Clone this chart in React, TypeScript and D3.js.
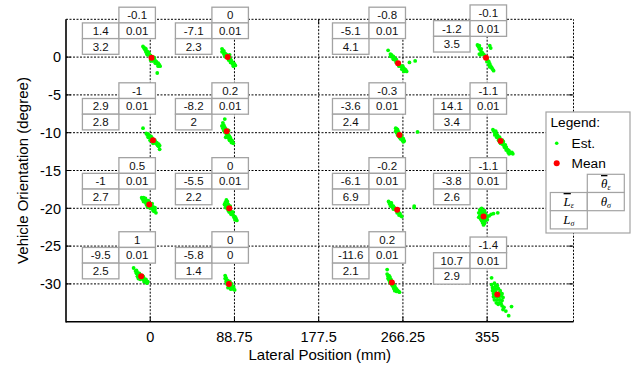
import React from 'react';
import * as d3 from 'd3';

// target grid (lateral mm, orientation deg)
const targetL = [0, 88.75, 266.25, 355];
const targetTheta = [0, -10, -20, -30];

// per cell, row-major (theta rows, L columns)
const meanL = [1.4, -7.1, -5.1, -1.2, 2.9, -8.2, -3.6, 14.1, -1, -5.5, -6.1, -3.8, -9.5, -5.8, -11.6, 10.7];
const meanTheta = [-0.1, 0, -0.8, -0.1, -1, 0.2, -0.3, -1.1, 0.5, 0, -0.2, -1.1, 1, 0, 0.2, -1.4];
const stdL = [3.2, 2.3, 4.1, 3.5, 2.8, 2, 2.4, 3.4, 2.7, 2.2, 6.9, 2.6, 2.5, 1.4, 2.1, 2.9];
const stdTheta = [0.01, 0.01, 0.01, 0.01, 0.01, 0.01, 0.01, 0.01, 0.01, 0.01, 0.01, 0.01, 0.01, 0, 0.01, 0.01];

// where each little table sits (data units, top-left of the upper cell)
const tableL = [-33, 65, 230.5, 337];
const tableTheta = [6.6, 6.6, 6.6, 6.9, -3.4, -3.4, -3.4, -3.4, -13.3, -13.3, -13.3, -13.3, -23.1, -23.1, -23.1, -23.8];

const xTicks = [0, 88.75, 177.5, 266.25, 355];
const yTicks = [0, -5, -10, -15, -20, -25, -30];

// estimates, offsets from the cell mean [dL mm, dTheta deg]
const est: number[][][] = [
  [[-9, 1.5], [-8, 1.3], [-7, 1.3], [-7, 1.1], [-6, 1.2], [-5, 0.9], [-6, 0.8], [-4, 0.8], [-3, 0.7], [-4, 0.4], [-2, 0.4], [-1, 0.3], [0, 0.1], [2, 0.1], [1, -0.1], [3, -0.3], [2, -0.4], [4, -0.4], [5, -0.5], [4, -0.7], [6, -0.8], [7, -0.7], [8, -0.9], [7, -1.1], [9, -1.1], [6, -2], [-1, -0.3], [3, 0], [-5, 0.5], [0, -0.4]],
  [[-6, 1.1], [-5, 0.9], [-6, 0.7], [-4, 0.8], [-3, 0.5], [-4, 0.4], [-2, 0.4], [-1, 0.3], [-2, 0], [0, -0.1], [1, 0.1], [2, -0.1], [1, -0.4], [3, -0.3], [4, -0.5], [3, -0.7], [5, -0.7], [6, -0.8], [5, -0.9], [7, -0.9], [8, -1.1], [6, -1.2], [2, 0.3], [-3, 0.1]],
  [[-10.5, 1.7], [-8, 1.2], [-7, 1.1], [-8, 0.9], [-6, 0.8], [-5, 0.9], [-5, 0.5], [-4, 0.7], [-3, 0.4], [-2, 0.5], [-1, 0.1], [-2, 0.1], [0, -0.1], [1, 0], [2, -0.3], [1, -0.4], [3, -0.4], [4, -0.5], [5, -0.4], [4, -0.8], [6, -0.7], [7, -0.8], [6, -1.1], [8, -0.9], [9, -1.1], [12, 0.1], [18, 0.3]],
  [[-9, 1.7], [-8, 1.5], [-7, 1.6], [-7, 1.2], [-6, 1.1], [-5, 1.2], [-5, 0.8], [-4, 0.7], [-3, 0.5], [-2, 0.4], [-1, 0.1], [0, 0], [1, -0.1], [2, -0.4], [1, -0.5], [3, -0.5], [4, -0.8], [3, -0.9], [5, -1.1], [4, -1.2], [6, -1.3], [7, -1.5], [8, -1.7], [4, 1.6], [5, 1.3], [-7, 0.5], [-6, 0.4]],
  [[-10.5, 1.6], [-7, 0.9], [-6, 0.7], [-5, 0.8], [-5, 0.4], [-4, 0.5], [-3, 0.4], [-2, 0.5], [-2, 0.1], [-1, 0.3], [0, 0], [1, -0.1], [2, 0], [2, -0.3], [3, -0.4], [4, -0.3], [4, -0.5], [5, -0.7], [6, -0.5], [6, -0.8], [7, -0.7], [7, -1.2], [0, -0.4], [-3, 0]],
  [[-2, 1.6], [-4, 1.1], [-5, 0.7], [-3, 0.8], [-4, 0.4], [-2, 0.5], [-3, 0.1], [-1, 0.3], [-2, -0.1], [0, 0], [1, -0.3], [0, -0.4], [2, -0.5], [1, -0.7], [3, -0.7], [2, -0.9], [4, -0.9], [3, -1.2], [5, -1.2], [6, -1.3], [5, -1.5], [7, -1.6], [-1, -0.8], [2, 0.1]],
  [[-4, 0.9], [-3, 0.8], [-4, 0.5], [-2, 0.7], [-3, 0.3], [-1, 0.4], [-2, 0], [0, 0.1], [1, -0.1], [0, -0.3], [2, -0.3], [1, -0.5], [3, -0.4], [3, -0.7], [4, -0.5], [5, -0.8], [4, -0.9], [19, 0.4], [-1, -0.1], [2, 0]],
  [[-8, 1.5], [-7, 1.3], [-6, 1.1], [-5, 1.3], [-4, 0.9], [-6, 0.8], [-3, 0.7], [-4, 0.5], [-2, 0.4], [-1, 0.5], [-2, 0.1], [0, 0.1], [1, -0.1], [0, -0.3], [2, -0.4], [3, -0.1], [3, -0.5], [4, -0.8], [5, -0.5], [5, -0.9], [6, -0.8], [7, -1.1], [6, -1.2], [8, -1.2], [8, -1.5], [9, -1.3], [10.5, -1.6], [12, -1.5], [13, -1.7], [9, -1.7], [2, 0.1]],
  [[-8, 0.9], [-7, 0.7], [-6, 0.9], [-5, 0.7], [-4, 0.8], [-6, 0.4], [-3, 0.5], [-4, 0.3], [-2, 0.3], [-1, 0.5], [-3, 0], [-1, 0], [1, 0.1], [0, -0.3], [2, -0.1], [3, 0.1], [2, -0.4], [4, -0.3], [3, -0.5], [5, -0.5], [4, -0.8], [6, -0.7], [5, -0.9], [7, -1.1], [6, -0.4], [-2, -0.3], [1, -0.5]],
  [[-3, 1.1], [-4, 0.8], [-2, 0.9], [-5, 0.5], [-3, 0.4], [-1, 0.5], [-4, 0.1], [-2, 0], [0, 0.1], [-1, -0.3], [1, -0.1], [2, -0.4], [0, -0.5], [3, -0.7], [2, -0.8], [4, -0.5], [4, -0.9], [5, -1.2], [6, -1.1], [6, -1.5], [7, -1.3], [8, -1.6], [1, 0.3]],
  [[-9, 1.1], [-8, 0.8], [-7, 0.9], [-6, 0.7], [-7, 0.5], [-5, 0.4], [-4, 0.5], [-3, 0.3], [-4, 0.1], [-2, 0.1], [-1, 0], [0, -0.1], [1, -0.3], [0, -0.4], [2, -0.4], [3, -0.5], [2, -0.7], [4, -0.8], [5, -0.9], [18, 0.5], [18, 0.3], [-6, 0.9]],
  [[-4, 0.9], [-2, 1.1], [-5, 0.5], [-3, 0.7], [-1, 0.7], [1, 0.8], [-4, 0.1], [-2, 0.3], [0, 0.4], [2, 0.4], [3, 0.1], [-3, -0.3], [-1, -0.1], [1, -0.1], [3, -0.3], [4, 0], [-2, -0.5], [0, -0.5], [2, -0.5], [4, -0.4], [-1, -0.8], [1, -0.9], [0, -1.1], [8, 0.3], [10.5, 0.4], [15, 0.5], [6, 0.1], [-5, -0.1]],
  [[-8, 1.1], [-6, 0.7], [-5, 0.8], [-5, 0.4], [-4, 0.5], [-3, 0.3], [-4, 0], [-2, 0.4], [-2, 0], [-1, 0.1], [0, -0.1], [1, 0.1], [1, -0.3], [2, 0], [2, -0.4], [3, -0.3], [4, -0.5], [3, -0.7], [5, -0.4], [5, -0.7], [6, -0.8], [7, -0.7], [6, -0.9], [-1, -0.4], [-3, -0.3]],
  [[-4, 1.1], [-3, 0.8], [-4, 0.7], [-2, 0.5], [-3, 0.3], [-1, 0.4], [-2, 0], [0, 0.1], [1, -0.1], [0, -0.3], [2, -0.3], [3, 0], [3, -0.4], [4, -0.5], [5, -0.4], [2, -0.7], [5, -0.7], [6, -0.8], [-1, -0.5], [1, 0.3]],
  [[-5, 1.7], [-5, 1.1], [-4, 0.8], [-3, 0.9], [-4, 0.5], [-2, 0.7], [-3, 0.3], [-1, 0.4], [-2, 0], [0, 0.1], [1, -0.1], [0, -0.3], [2, -0.4], [1, -0.5], [3, -0.5], [2, -0.8], [4, -0.8], [3, -1.1], [5, -0.9], [6, -1.1], [5, -1.2], [7, -1.2], [8, -1.3], [-1, -0.1]],
  [[-6, 2.2], [-6, 1.3], [-3, 1.5], [-5, 0.9], [-2, 1.1], [0, 1.2], [-5, 0.5], [-3, 0.7], [-1, 0.7], [1, 0.8], [3, 0.5], [-4, 0.1], [-2, 0.3], [1, 0.1], [3, 0.3], [5, 0.1], [-4, -0.3], [-1, -0.3], [2, -0.3], [4, -0.1], [6, -0.4], [-3, -0.7], [0, -0.7], [3, -0.7], [5, -0.8], [-1, -1.1], [2, -1.1], [4, -1.2], [1, -1.3], [5, -1.5], [7, -1.7], [9, -2.2], [12, -2.8], [15, -1.6], [6, -2]],
];

const font = '"Liberation Sans", Arial, Helvetica, sans-serif';
const serif = '"Liberation Serif", "Times New Roman", serif';

const cellW = 36.5;
const cellH = 15.7;

export default function App() {
  const x = d3.scaleLinear().domain([-88.75, 446]).range([66, 573.5]);
  const y = d3.scaleLinear().domain([-35, 5]).range([321.7, 19.3]);
  const [x0, x1] = x.range();
  const [y0, y1] = y.range();

  const cells = d3.cross(targetTheta, targetL).map(([t, l], i) => ({
    i,
    cx: l + meanL[i],
    cy: t + meanTheta[i],
    pts: est[i].map(([dl, dt]) => [l + meanL[i] + dl, t + meanTheta[i] + dt]),
    ax: x(tableL[i % 4]),
    ay: y(tableTheta[i]),
  }));

  const cellBox = (bx: number, by: number, w: number, h: number, label: any, key: string) => (
    <g key={key}>
      <rect x={bx} y={by} width={w} height={h} fill="#fff" stroke="#a3a3a3" strokeWidth={1.3} />
      <text x={bx + w / 2} y={by + h / 2} dy="0.36em" textAnchor="middle" fontSize={11.5} fill="#111">{label}</text>
    </g>
  );

  return (
    <svg width={636} height={366} style={{ position: 'absolute', left: 0, top: 0 }} fontFamily={font}>
      <rect width={636} height={366} fill="#fff" />

      {/* grid */}
      <g stroke="#000" strokeWidth={1} strokeDasharray="2,1.5">
        {xTicks.map(t => <line key={'gx' + t} x1={x(t)} x2={x(t)} y1={y0} y2={y1} />)}
        {yTicks.map(t => <line key={'gy' + t} x1={x0} x2={x1} y1={y(t)} y2={y(t)} />)}
        <line x1={x0} x2={x1} y1={y1} y2={y1} />
        <line x1={x1} x2={x1} y1={y0} y2={y1} />
      </g>

      {/* axes */}
      <g stroke="#000" strokeWidth={1.6}>
        <line x1={x0} x2={x0} y1={y0 + 0.8} y2={y1} />
        <line x1={x0} x2={x1} y1={y0} y2={y0} />
      </g>
      <g stroke="#000" strokeWidth={1}>
        {xTicks.map(t => <line key={'tb' + t} x1={x(t)} x2={x(t)} y1={y0} y2={y0 - 5} />)}
        {xTicks.map(t => <line key={'tt' + t} x1={x(t)} x2={x(t)} y1={y1} y2={y1 + 5} />)}
        {yTicks.map(t => <line key={'tl' + t} x1={x0} x2={x0 + 5} y1={y(t)} y2={y(t)} />)}
        {yTicks.map(t => <line key={'tr' + t} x1={x1} x2={x1 - 5} y1={y(t)} y2={y(t)} />)}
      </g>

      {/* tick labels */}
      <g fontSize={14.5} fill="#000">
        {xTicks.map(t => (
          <text key={'lx' + t} x={x(t)} y={y0 + 20} textAnchor="middle">{String(t)}</text>
        ))}
        {yTicks.map(t => (
          <text key={'ly' + t} x={x0 - 5} y={y(t)} dy="0.36em" textAnchor="end">{String(t)}</text>
        ))}
      </g>
      <text x={(x0 + x1) / 2} y={360} textAnchor="middle" fontSize={15}>Lateral Position (mm)</text>
      <text transform={`translate(23,${(y0 + y1) / 2}) rotate(-90)`} textAnchor="middle" dy="0.36em" fontSize={15}>Vehicle Orientation (degree)</text>

      {/* estimates and means */}
      {cells.map(c => (
        <g key={'c' + c.i}>
          {c.pts.map(([l, t], j) => <circle key={j} cx={x(l)} cy={y(t)} r={1.9} fill="#00ff00" />)}
        </g>
      ))}
      {cells.map(c => <circle key={'m' + c.i} cx={x(c.cx)} cy={y(c.cy)} r={3} fill="#ff0000" />)}

      {/* per-cell tables */}
      {cells.map(c => (
        <g key={'t' + c.i}>
          {cellBox(c.ax, c.ay, cellW, cellH, String(meanTheta[c.i]), 'a')}
          {cellBox(c.ax - cellW, c.ay + cellH, cellW, cellH, String(meanL[c.i]), 'b')}
          {cellBox(c.ax, c.ay + cellH, cellW, cellH, String(stdTheta[c.i]), 'c')}
          {cellBox(c.ax - cellW, c.ay + 2 * cellH, cellW, cellH, String(stdL[c.i]), 'd')}
        </g>
      ))}

      {/* legend */}
      <g>
        <rect x={546} y={112} width={84} height={121} fill="#fff" stroke="#a3a3a3" strokeWidth={1.2} />
        <text x={550.5} y={126.5} fontSize={13.7}>Legend:</text>
        <circle cx={556.7} cy={143.3} r={1.8} fill="#00ff00" />
        <text x={571.5} y={143.3} dy="0.36em" fontSize={13.7}>Est.</text>
        <circle cx={556.7} cy={163.3} r={3} fill="#ff0000" />
        <text x={571.5} y={163.3} dy="0.36em" fontSize={13.7}>Mean</text>
        <g fontFamily={serif} fontStyle="italic" fontSize={13}>
          <rect x={587.3} y={174.3} width={37} height={18.2} fill="#fff" stroke="#a3a3a3" strokeWidth={1.2} />
          <rect x={550.3} y={192.5} width={37} height={18.2} fill="#fff" stroke="#a3a3a3" strokeWidth={1.2} />
          <rect x={587.3} y={192.5} width={37} height={18.2} fill="#fff" stroke="#a3a3a3" strokeWidth={1.2} />
          <rect x={550.3} y={210.7} width={37} height={18.2} fill="#fff" stroke="#a3a3a3" strokeWidth={1.2} />
          <text x={605.8} y={188} textAnchor="middle">
            <tspan style={{ textDecoration: 'overline' }}>θ</tspan>
            <tspan fontSize={8} dy={2}>ε</tspan>
          </text>
          <text x={568.8} y={206} textAnchor="middle">
            <tspan style={{ textDecoration: 'overline' }}>L</tspan>
            <tspan fontSize={8} dy={2}>ε</tspan>
          </text>
          <text x={605.8} y={206} textAnchor="middle">
            <tspan>θ</tspan>
            <tspan fontSize={8} dy={2}>σ</tspan>
          </text>
          <text x={568.8} y={224} textAnchor="middle">
            <tspan>L</tspan>
            <tspan fontSize={8} dy={2}>σ</tspan>
          </text>
        </g>
      </g>
    </svg>
  );
}
